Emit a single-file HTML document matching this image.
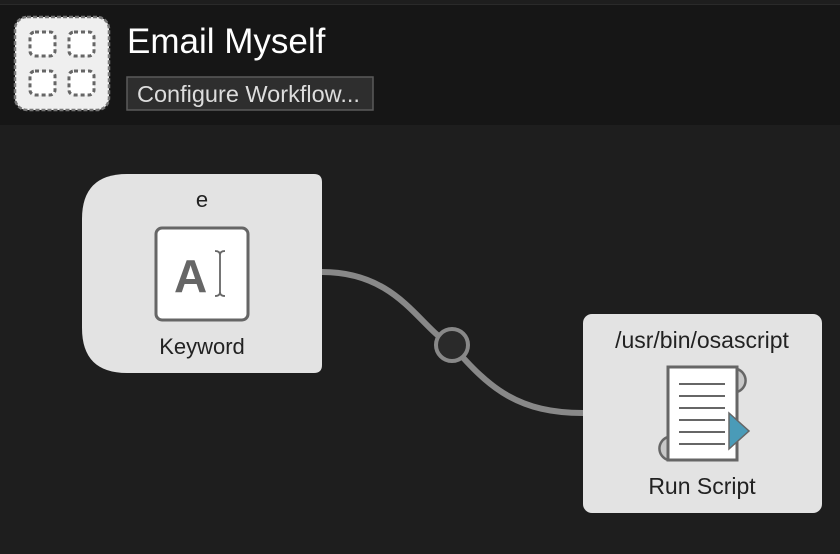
<!DOCTYPE html>
<html><head><style>
body{margin:0;width:840px;height:554px;background:#1e1e1e;font-family:"Liberation Sans",sans-serif;overflow:hidden;position:relative}
.hdr{position:absolute;left:0;top:4px;width:840px;height:120px;background:#161616;border-top:1px solid #2a2a2a}
</style></head><body>
<div class="hdr"></div>
<svg width="840" height="554" style="position:absolute;left:0;top:0">
<rect x="15" y="17" width="94" height="93" rx="12" fill="#efefef" stroke="#777" stroke-width="2.5" stroke-dasharray="4,2"/>
<g fill="#fff" stroke="#666" stroke-width="3" stroke-dasharray="4,3">
<rect x="30" y="32" width="25" height="24" rx="5"/><rect x="69" y="32" width="25" height="24" rx="5"/>
<rect x="30" y="71" width="25" height="24" rx="5"/><rect x="69" y="71" width="25" height="24" rx="5"/></g>
<rect x="127" y="77" width="246" height="33" fill="#2e2e2e" stroke="#5a5a5a" stroke-width="1.5"/>
<text x="137" y="102" font-size="23.5" fill="#ddd" font-family="Liberation Sans">Configure Workflow...</text>
<text x="127" y="53" font-size="35" fill="#fff" font-family="Liberation Sans">Email Myself</text>
<path d="M322 272 C 400 272, 420 330, 452 345 C 490 390, 520 413, 583 413" fill="none" stroke="#888" stroke-width="6"/>
<circle cx="452" cy="345" r="16" fill="#2a2a2a" stroke="#888" stroke-width="4"/>
<path d="M127 174 H314 Q322 174 322 182 V365 Q322 373 314 373 H127 Q82 373 82 328 V219 Q82 174 127 174 Z" fill="#e3e3e3"/>
<rect x="156" y="228" width="92" height="92" rx="6" fill="#fff" stroke="#666" stroke-width="3"/>
<text x="174" y="292" font-size="46" font-weight="bold" fill="#666" font-family="Liberation Sans">A</text>
<path d="M220 253 V294 M215 251 Q220 251 220 255 Q220 251 225 251 M215 296 Q220 296 220 292 Q220 296 225 296" stroke="#666" stroke-width="1.8" fill="none"/>
<text x="202" y="207" font-size="22" fill="#222" text-anchor="middle" font-family="Liberation Sans">e</text>
<text x="202" y="354" font-size="22" fill="#222" text-anchor="middle" font-family="Liberation Sans">Keyword</text>
<rect x="583" y="314" width="239" height="199" rx="9" fill="#e3e3e3"/>
<text x="702" y="348" font-size="23" fill="#222" text-anchor="middle" font-family="Liberation Sans">/usr/bin/osascript</text>
<text x="702" y="494" font-size="23" fill="#222" text-anchor="middle" font-family="Liberation Sans">Run Script</text>
<path d="M737 369 A12 12 0 0 1 737 392 Z" fill="#c8c8c8" stroke="#666" stroke-width="2.5"/>
<path d="M668 437 A12 12 0 0 0 668 460 Z" fill="#c8c8c8" stroke="#666" stroke-width="2.5"/>
<rect x="668" y="367" width="69" height="93" fill="#fff" stroke="#666" stroke-width="3"/>
<g stroke="#666" stroke-width="2"><line x1="679" y1="384" x2="725" y2="384"/><line x1="679" y1="396" x2="725" y2="396"/><line x1="679" y1="408" x2="725" y2="408"/><line x1="679" y1="420" x2="725" y2="420"/><line x1="679" y1="432" x2="725" y2="432"/><line x1="679" y1="444" x2="725" y2="444"/></g>
<path d="M729 413 L749 431 L729 449 Z" fill="#4a9bb8" stroke="#666" stroke-width="1.5"/>
</svg>
</body></html>
